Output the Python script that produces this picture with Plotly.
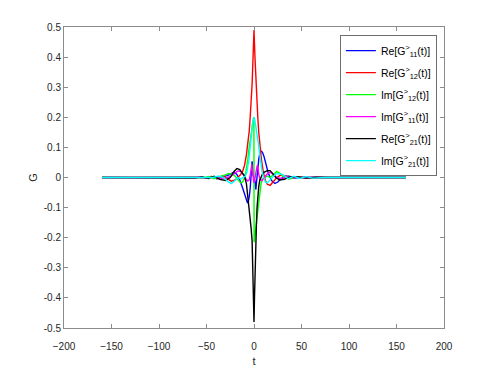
import plotly.graph_objects as go

# Re[G11] (blue)
t_re11 = [-160, -110, -75, -60, -52, -45, -39, -33, -28, -24, -21, -18, -15, -12.5, -10.5,
          -9, -8, -7, -6, -5, -4, -3.2, -2.5, -2, -1.5, -1, 0, 1, 1.5, 2, 2.5, 3.2, 4, 5,
          6, 7, 8, 9, 10.5, 12.5, 15, 17, 19, 22, 25, 28, 32, 37, 43, 50, 60, 75, 110, 160]
g_re11 = [0, 0, 0, 0.001, -0.002, 0.003, -0.004, 0.003, 0.006, 0.014, 0.018, 0.01, -0.008,
          -0.03, -0.052, -0.068, -0.077, -0.083, -0.08, -0.064, -0.035, -0.005, 0.03, 0.054,
          0.032, 0.008, 0.0, -0.012, -0.03, -0.04, -0.02, 0.01, 0.035, 0.06, 0.078, 0.086,
          0.087, 0.083, 0.07, 0.045, 0.015, 0.0, -0.012, -0.02, -0.015, -0.005, 0.004, 0.004,
          -0.002, 0.001, 0, 0, 0, 0]

# Re[G12] (red)
t_re12 = [-160, -110, -75, -60, -52, -45, -39, -33, -28, -24, -20, -17, -14, -12, -10, -8,
          -6, -5, -4, -3, -2, -1, 0, 1, 2, 3, 4, 5, 6, 8, 10, 12, 14, 17, 20, 24, 28, 33,
          39, 45, 52, 60, 75, 110, 160]
g_re12 = [0, 0, 0, 0.001, -0.003, 0.003, -0.004, 0.006, -0.004, -0.012, -0.008, 0.0, 0.01,
          0.02, 0.04, 0.075, 0.12, 0.155, 0.2, 0.25, 0.31, 0.4, 0.49, 0.4, 0.31, 0.25, 0.2,
          0.15, 0.11, 0.055, 0.015, -0.01, -0.022, -0.026, -0.015, 0.0, 0.008, 0.005, -0.003,
          0.002, -0.001, 0, 0, 0, 0]

# Im[G12] (green)
t_im12 = [-160, -110, -75, -62, -55, -48, -42, -36, -31, -27, -23, -20, -17, -14, -12, -10,
          -8.5, -7.3, -6.5, -5.5, -4.5, -3.5, -2.5, -1.5, -0.7, -0.1, 0.1, 0.7, 1.5, 2.5,
          3.5, 4.5, 5.5, 6.5, 7.5, 9, 11, 14, 17, 20, 24, 28, 32, 37, 43, 50, 60, 75, 110, 160]
g_im12 = [0, 0, 0, 0.002, -0.003, 0.003, -0.004, 0.004, 0.008, 0.013, 0.012, 0.005, -0.008,
          -0.018, -0.015, -0.002, 0.02, 0.04, 0.06, 0.09, 0.115, 0.14, 0.16, 0.18, 0.195, 0.2,
          -0.215, -0.2, -0.18, -0.15, -0.12, -0.085, -0.056, -0.035, -0.018, -0.005, 0.0,
          0.005, 0.0, 0.01, 0.02, 0.012, 0.0, -0.005, 0.0, 0.002, 0, 0, 0, 0]

# Im[G11] (magenta)
t_im11 = [-160, -110, -75, -60, -50, -42, -35, -29, -24, -20, -17, -14, -11, -8.5, -6.5, -5,
          -4, -3, -2.3, -1.6, -1, -0.3, 0.3, 1, 1.8, 2.6, 3.4, 4.2, 5, 6.5, 8.5, 11, 14, 17,
          20, 24, 29, 35, 42, 50, 60, 75, 110, 160]
g_im11 = [0, 0, 0, 0.001, -0.002, 0.002, -0.003, -0.002, 0.005, 0.015, 0.022, 0.02, 0.01,
          -0.005, -0.012, -0.008, 0.005, 0.025, 0.045, 0.02, -0.005, -0.015, -0.015, 0.0,
          0.015, 0.03, 0.04, 0.035, 0.01, -0.008, -0.01, 0.0, 0.012, 0.018, 0.012, 0.0,
          -0.004, 0.002, -0.001, 0.001, 0, 0, 0, 0]

# Re[G21] (black)
t_re21 = [-160, -110, -75, -62, -55, -48, -42, -36, -30, -25, -21, -18, -15, -12, -10, -8,
          -6.5, -5.5, -4, -3, -2, -1.5, -1, -0.5, 0, 0.5, 1, 1.5, 2, 2.5, 3.2, 4, 5, 6, 7.5,
          9, 11, 14, 17, 20, 23, 27, 32, 38, 45, 55, 65, 80, 110, 160]
g_re21 = [0, 0, 0, -0.002, 0.003, -0.003, 0.004, -0.006, -0.01, 0.0, 0.02, 0.03, 0.026,
          0.015, 0.005, -0.02, -0.06, -0.1, -0.14, -0.17, -0.21, -0.26, -0.32, -0.4, -0.48,
          -0.4, -0.32, -0.26, -0.21, -0.16, -0.1, -0.06, -0.03, -0.01, 0.005, 0.012, 0.018,
          0.023, 0.023, 0.012, 0.0, -0.008, -0.006, 0.002, 0.003, -0.002, 0.001, 0, 0, 0]

# Im[G21] (cyan)
t_im21 = [-160, -110, -75, -60, -50, -43, -37, -32, -28, -24, -20, -17, -14, -11, -9, -7.5,
          -6.5, -5.5, -4.5, -3.5, -2.5, -1.5, -0.7, -0.1, 0.1, 0.7, 1.5, 2.5, 3.5, 4.5, 5.5,
          6.5, 7.3, 8.5, 10, 12, 14, 17, 20, 23, 27, 31, 36, 42, 48, 55, 62, 75, 110, 160]
g_im21 = [0, 0, 0, 0, -0.002, 0.0, 0.005, 0.0, -0.012, -0.02, -0.01, 0.0, -0.005, 0.0, 0.005,
          0.018, 0.035, 0.056, 0.085, 0.12, 0.15, 0.18, 0.19, 0.2, 0.2, 0.195, 0.18, 0.16,
          0.14, 0.115, 0.09, 0.06, 0.04, 0.02, 0.002, -0.015, -0.018, -0.008, 0.005, 0.012,
          0.013, 0.008, -0.004, 0.004, -0.003, 0.003, -0.002, 0, 0, 0]

series = [
    ("Re[G<sup>&gt;</sup><sub>11</sub>(t)]", t_re11, g_re11, "#0000ff"),
    ("Re[G<sup>&gt;</sup><sub>12</sub>(t)]", t_re12, g_re12, "#ff0000"),
    ("Im[G<sup>&gt;</sup><sub>12</sub>(t)]", t_im12, g_im12, "#00ff00"),
    ("Im[G<sup>&gt;</sup><sub>11</sub>(t)]", t_im11, g_im11, "#ff00ff"),
    ("Re[G<sup>&gt;</sup><sub>21</sub>(t)]", t_re21, g_re21, "#000000"),
    ("Im[G<sup>&gt;</sup><sub>21</sub>(t)]", t_im21, g_im21, "#00ffff"),
]

x_ticks = [-200, -150, -100, -50, 0, 50, 100, 150, 200]
y_ticks = [-0.5, -0.4, -0.3, -0.2, -0.1, 0, 0.1, 0.2, 0.3, 0.4, 0.5]
y_ticktext = ["-0.5", "-0.4", "-0.3", "-0.2", "-0.1", "0", "0.1", "0.2", "0.3", "0.4", "0.5"]

FONT = "Liberation Sans, Arial, sans-serif"
AX = "#8c8c8c"

fig = go.Figure()
for i, (name, t, g, col) in enumerate(series):
    fig.add_trace(go.Scatter(
        x=t, y=g, mode="lines", name=name, legendgroup=str(i),
        line=dict(color=col, width=1.4),
    ))

axis_common = dict(
    showline=True, linecolor=AX, linewidth=1, mirror="ticks",
    ticks="inside", ticklen=4, tickcolor=AX,
    showgrid=False, zeroline=False, automargin=False,
    tickfont=dict(family=FONT, size=10, color="#262626"),
)

# the page body adds 8px on the left and top, so the figure is a bit smaller
fig.update_layout(
    width=483, height=360,
    margin=dict(l=56, r=47, t=19, b=40),
    paper_bgcolor="white", plot_bgcolor="white",
    font=dict(family=FONT, size=10, color="#262626"),
    xaxis=dict(range=[-200, 200], tickvals=x_ticks, ticklabelstandoff=9,
               title=dict(text="t", font=dict(size=11), standoff=6), **axis_common),
    yaxis=dict(range=[-0.5, 0.5], tickvals=y_ticks, ticktext=y_ticktext,
               title=dict(text="G", font=dict(size=11), standoff=3), **axis_common),
    legend=dict(x=0.726, y=0.973, xanchor="left", yanchor="top",
                bgcolor="white", bordercolor="#6e6e6e", borderwidth=1,
                font=dict(family=FONT, size=10.5, color="#000000"),
                tracegroupgap=3),
    showlegend=True,
)

fig.write_html("out.html")
